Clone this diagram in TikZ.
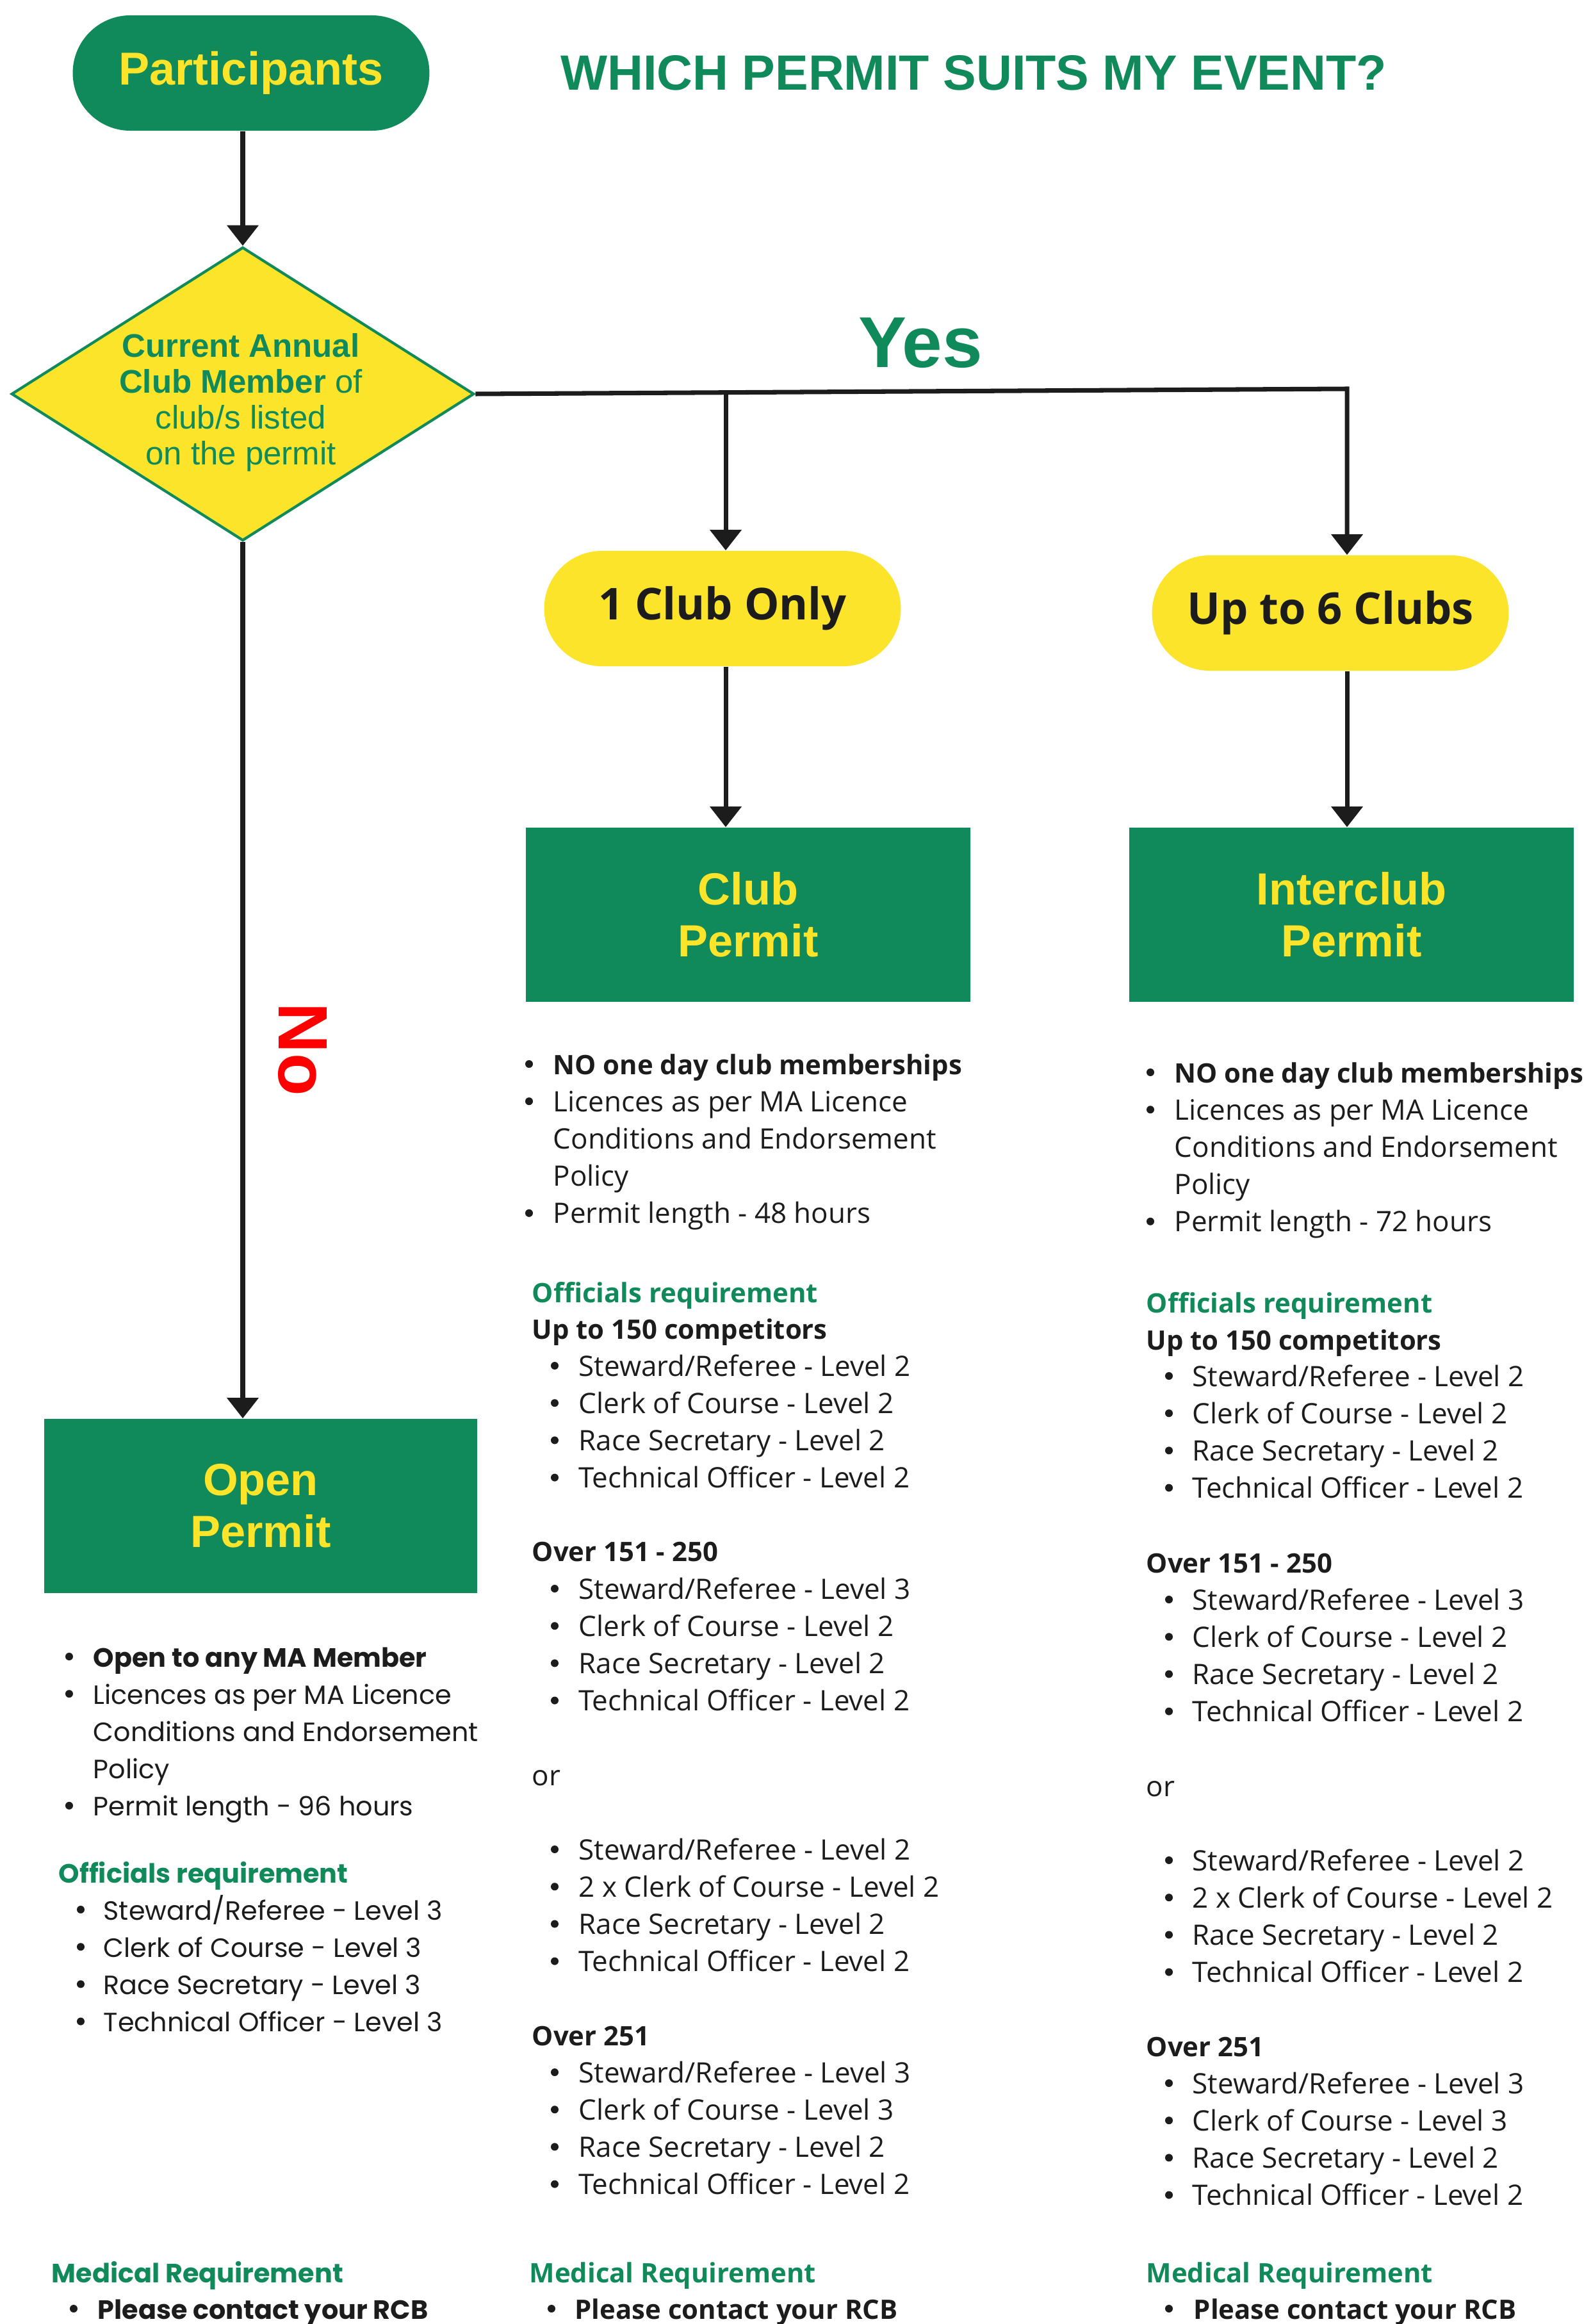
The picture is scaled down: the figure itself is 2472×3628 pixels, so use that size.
\documentclass[tikz,border=0pt]{standalone}
\usepackage{fontspec}
\setmainfont{Open Sans}
\newfontfamily\headfont{Liberation Sans}
\newfontfamily\geofont{Poppins}
\usetikzlibrary{shapes.geometric,shapes.misc,arrows.meta}
\definecolor{permitgreen}{HTML}{108A5A}
\definecolor{permityellow}{HTML}{FCE42A}
\definecolor{inkdark}{HTML}{1C1C1C}
\definecolor{nored}{HTML}{FF0000}
% one bullet list of officials, 4 lines
\newcommand{\reqlist}[6][bodytext]{%
  \foreach \t [count=\i from 0] in {#6} {
    \node[dotbul] (#2dot\i) at (#3,#5-16+58.2*\i) {};
    \node[#1] (#2line\i) at (#4,#5+58.2*\i) {\t};
  }}
\begin{document}
\begin{tikzpicture}[x=0.01cm, y=-0.01cm,
    partbox/.style={rounded rectangle, fill=permitgreen, minimum width=5.8cm, minimum height=1.8cm,
      text=permityellow, font=\headfont\bfseries\fontsize{20.5}{24}\selectfont},
    decisionbox/.style={diamond, aspect=1.576, draw=permitgreen, line width=1.2pt, fill=permityellow,
      minimum width=7.22cm, minimum height=4.58cm, inner sep=0pt},
    pillbox/.style={rounded rectangle, fill=permityellow, minimum width=5.8cm, minimum height=1.8cm,
      text=inkdark, font=\bfseries\fontsize{19.5}{23}\selectfont},
    permitbox/.style={rectangle, fill=permitgreen, minimum width=6.93cm, minimum height=2.72cm, align=center,
      text=permityellow, font=\headfont\bfseries\fontsize{20}{23}\selectfont},
    flowarrow/.style={draw=inkdark, line width=2pt, -{Triangle[width=0.48cm,length=0.32cm]}},
    bodytext/.style={anchor=base west, inner sep=0pt, text=inkdark, font=\fontsize{12.5}{15}\selectfont},
    boldtext/.style={bodytext, font=\bfseries\fontsize{11.9}{15}\selectfont},
    greenhead/.style={bodytext, text=permitgreen, font=\bfseries\fontsize{11.9}{15}\selectfont},
    dotbul/.style={circle, fill=inkdark, inner sep=0pt, minimum size=0.12cm},
    geotext/.style={bodytext, font=\geofont\fontsize{11.75}{15}\selectfont},
    geobold/.style={bodytext, font=\geofont\bfseries\fontsize{11.75}{15}\selectfont},
    geohead/.style={bodytext, text=permitgreen, font=\geofont\bfseries\fontsize{11.75}{15}\selectfont}]
  \useasboundingbox (0,0) rectangle (2472,3628);

  % flow chart
  \node[partbox] (part) at (392,114) {Participants};
  \node[anchor=base, text=permitgreen, font=\headfont\bfseries\fontsize{22}{26}\selectfont] (title) at (1520,141) {WHICH PERMIT SUITS MY EVENT?};
  \node[decisionbox] (dia) at (379,615) {};
  \node[align=center, text=permitgreen, font=\headfont\fontsize{14.5}{15.9}\selectfont] (diatext) at (376,628)
    {\textbf{Current Annual}\\\textbf{Club Member} of\\club/s listed\\on the permit};
  \node[pillbox] (oneclub) at (1128,950) {1 Club Only};
  \node[pillbox] (upsix) at (2077,957) {Up to 6 Clubs};
  \node[permitbox] (clubp) at (1168,1428) {Club\\Permit};
  \node[permitbox] (interp) at (2110,1428) {Interclub\\Permit};
  \node[permitbox, minimum width=6.75cm] (openp) at (407,2351) {Open\\Permit};
  \node[anchor=base, text=permitgreen, font=\headfont\bfseries\fontsize{32}{36}\selectfont] (yes) at (1437,574) {Yes};
  \node[rotate=-90, text=nored, font=\headfont\bfseries\fontsize{31}{36}\selectfont] (no) at (472,1638) {No};
  \coordinate (branch) at (1133,611);
  \coordinate (corner) at (2103,607);

  \draw[flowarrow] (part.south -| dia.north) -- (dia.north);
  \draw[flowarrow] (dia.east) -- (corner) -- (corner |- upsix.north);
  \draw[flowarrow] (branch) -- (branch |- oneclub.north);
  \draw[flowarrow] (oneclub.south -| branch) -- (branch |- clubp.north);
  \draw[flowarrow] (upsix.south -| corner) -- (corner |- interp.north);
  \draw[flowarrow] (dia.south) -- (dia.south |- openp.north);

  % club permit
  \foreach \t [count=\i from 0] in {{\bfseries\fontsize{11.9}{15}\selectfont NO one day club memberships}, Licences as per MA Licence,
      Conditions and Endorsement, Policy, Permit length - 48 hours}
    \node[bodytext] (clubtop\i) at (863,1677+58.2*\i) {\t};
  \foreach \i in {0,1,4}
    \node[dotbul] (clubtopdot\i) at (826,1661+58.2*\i) {};
  \node[greenhead] (clubofficials) at (830,2033) {Officials requirement};
  \node[boldtext] (clubupto) at (830,2090) {Up to 150 competitors};
  \reqlist{clubA}{866}{903}{2148}{Steward/Referee - Level 2, Clerk of Course - Level 2, Race Secretary - Level 2, Technical Officer - Level 2}
  \node[boldtext] (clubover) at (830,2437) {Over 151 - 250};
  \reqlist{clubB}{866}{903}{2496}{Steward/Referee - Level 3, Clerk of Course - Level 2, Race Secretary - Level 2, Technical Officer - Level 2}
  \node[bodytext] (clubor) at (830,2787) {or};
  \reqlist{clubC}{866}{903}{2903}{Steward/Referee - Level 2, 2 x Clerk of Course - Level 2, Race Secretary - Level 2, Technical Officer - Level 2}
  \node[boldtext] (clubbig) at (830,3193) {Over 251};
  \reqlist{clubD}{866}{903}{3251}{Steward/Referee - Level 3, Clerk of Course - Level 3, Race Secretary - Level 2, Technical Officer - Level 2}
  \node[greenhead] (clubmed) at (826,3563) {Medical Requirement};
  \reqlist[boldtext]{clubE}{861}{897}{3620}{Please contact your RCB}

  % interclub permit
  \foreach \t [count=\i from 0] in {{\bfseries\fontsize{11.9}{15}\selectfont NO one day club memberships}, Licences as per MA Licence,
      Conditions and Endorsement, Policy, Permit length - 72 hours}
    \node[bodytext] (intertop\i) at (1833,1690+58.2*\i) {\t};
  \foreach \i in {0,1,4}
    \node[dotbul] (intertopdot\i) at (1796,1674+58.2*\i) {};
  \node[greenhead] (interofficials) at (1789,2049) {Officials requirement};
  \node[boldtext] (interupto) at (1789,2107) {Up to 150 competitors};
  \reqlist{interA}{1825}{1861}{2164}{Steward/Referee - Level 2, Clerk of Course - Level 2, Race Secretary - Level 2, Technical Officer - Level 2}
  \node[boldtext] (interover) at (1789,2455) {Over 151 - 250};
  \reqlist{interB}{1825}{1861}{2513}{Steward/Referee - Level 3, Clerk of Course - Level 2, Race Secretary - Level 2, Technical Officer - Level 2}
  \node[bodytext] (interor) at (1789,2804) {or};
  \reqlist{interC}{1825}{1861}{2920}{Steward/Referee - Level 2, 2 x Clerk of Course - Level 2, Race Secretary - Level 2, Technical Officer - Level 2}
  \node[boldtext] (interbig) at (1789,3210) {Over 251};
  \reqlist{interD}{1825}{1861}{3268}{Steward/Referee - Level 3, Clerk of Course - Level 3, Race Secretary - Level 2, Technical Officer - Level 2}
  \node[greenhead] (intermed) at (1789,3563) {Medical Requirement};
  \reqlist[boldtext]{interE}{1825}{1863}{3620}{Please contact your RCB}

  % open permit
  \foreach \t [count=\i from 0] in {{\bfseries Open to any MA Member}, Licences as per MA Licence,
      Conditions and Endorsement, Policy, Permit length - 96 hours}
    \node[geotext] (opentop\i) at (145,2602+58.2*\i) {\t};
  \foreach \i in {0,1,4}
    \node[dotbul] (opentopdot\i) at (108,2586+58.2*\i) {};
  \node[geohead] (openofficials) at (91,2939) {Officials requirement};
  \reqlist[geotext]{openA}{126}{161}{2997}{Steward/Referee - Level 3, Clerk of Course - Level 3, Race Secretary - Level 3, Technical Officer - Level 3}
  \node[geohead] (openmed) at (80,3563) {Medical Requirement};
  \reqlist[geobold]{openE}{115}{152}{3620}{Please contact your RCB}
\end{tikzpicture}
\end{document}
